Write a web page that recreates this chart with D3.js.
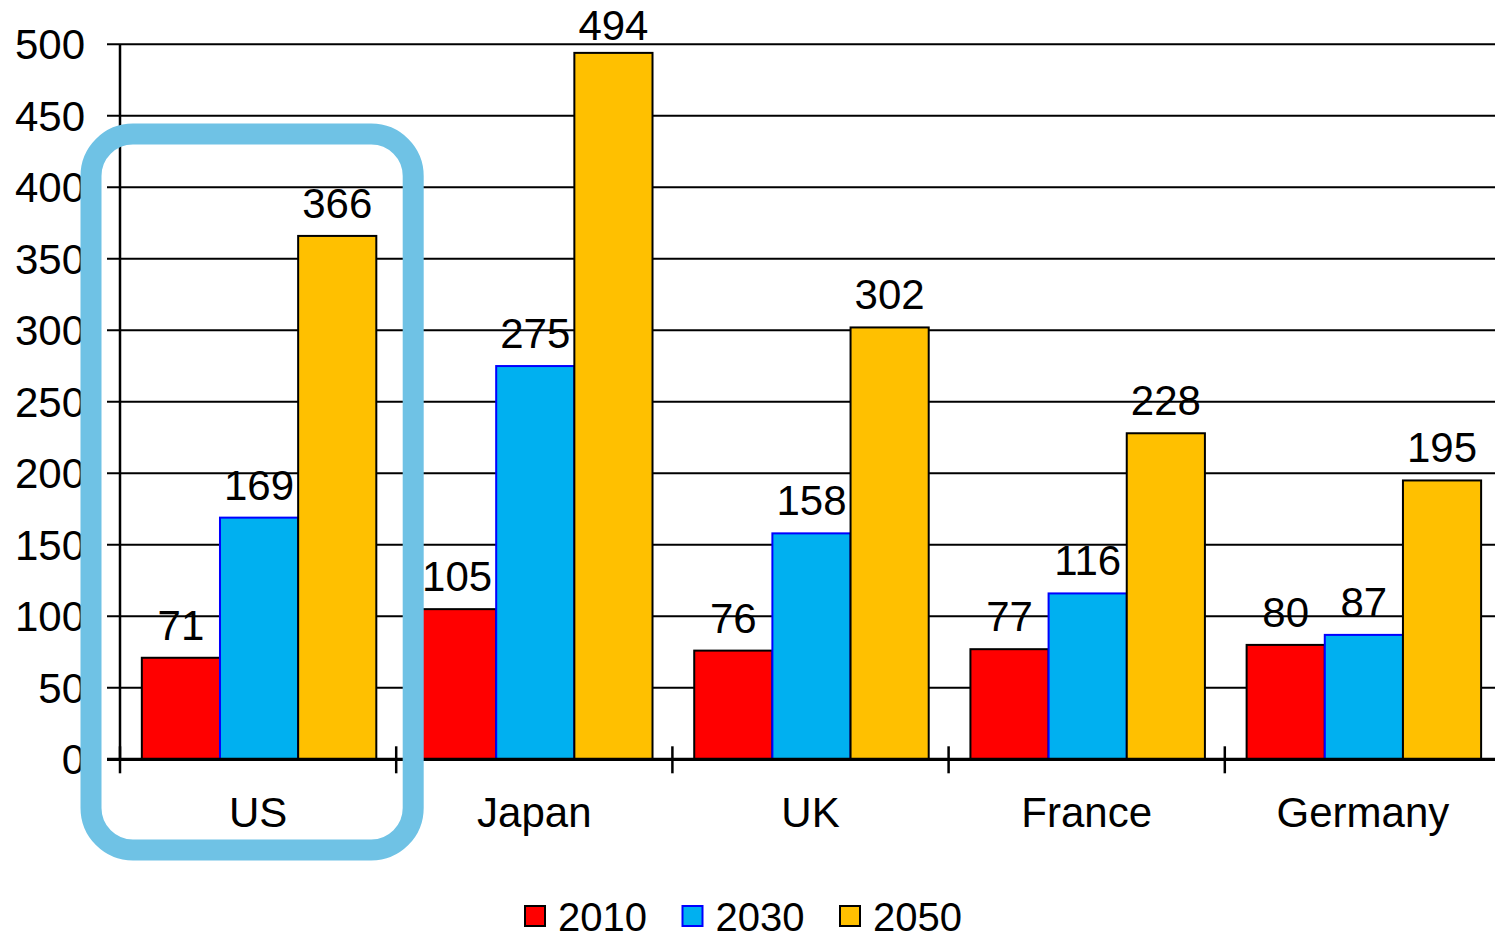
<!DOCTYPE html>
<html>
<head>
<meta charset="utf-8">
<script src="https://cdn.jsdelivr.net/npm/d3@7"></script>
<style>
  html, body { margin: 0; padding: 0; background: #fff; }
  svg { display: block; }
  text { font-family: "Liberation Sans", Arial, sans-serif; fill: #000; }
</style>
</head>
<body>
<svg id="chart" width="1495" height="939"></svg>
<script>
const categories = ["US", "Japan", "UK", "France", "Germany"];
const seriesNames = ["2010", "2030", "2050"];
const values2010 = [71, 105, 76, 77, 80];
const values2030 = [169, 275, 158, 116, 87];
const values2050 = [366, 494, 302, 228, 195];
const yTicks = [0, 50, 100, 150, 200, 250, 300, 350, 400, 450, 500];

(function () {
const seriesValues = [values2010, values2030, values2050];
const fills = ["#FF0000", "#00B0F0", "#FFC000"];
const strokes = ["#000000", "#0000FF", "#000000"];
const fs = 42;

const svg = d3.select("#chart");
const pLeft = 120, pRight = 1501, pTop = 44.3, pBottom = 759.3;

const x0 = d3.scaleBand().domain(categories).range([pLeft, pRight]);
const bw = x0.bandwidth();
const x1 = d3.scaleBand().domain(seriesNames).range([0.079 * bw, 0.928 * bw]);
const y = d3.scaleLinear().domain([0, 500]).range([pBottom, pTop]);

// gridlines
svg.append("g").selectAll("line").data(yTicks.filter(d => d > 0)).join("line")
  .attr("x1", pLeft - 13).attr("x2", 1495)
  .attr("y1", d => y(d)).attr("y2", d => y(d))
  .attr("stroke", "#000").attr("stroke-width", 2);
svg.append("line").attr("x1", pLeft - 13).attr("x2", pLeft).attr("y1", y(0)).attr("y2", y(0))
  .attr("stroke", "#000").attr("stroke-width", 2);

// y tick labels
svg.append("g").selectAll("text").data(yTicks).join("text")
  .attr("x", 85).attr("y", d => y(d)).attr("dy", "0.35em")
  .attr("text-anchor", "end").attr("font-size", fs)
  .text(d => d);

// bars
const groups = svg.append("g").selectAll("g").data(categories).join("g")
  .attr("transform", c => `translate(${x0(c)},0)`);
seriesNames.forEach((s, si) => {
  groups.append("rect")
    .attr("x", x1(s)).attr("width", x1.bandwidth())
    .attr("y", (c, i) => y(seriesValues[si][i]))
    .attr("height", (c, i) => y(0) - y(seriesValues[si][i]))
    .attr("fill", fills[si]).attr("stroke", strokes[si]).attr("stroke-width", 2);
});
seriesNames.forEach((s, si) => {
  groups.append("text")
    .attr("x", x1(s) + x1.bandwidth() / 2)
    .attr("y", (c, i) => Math.max(y(seriesValues[si][i]) - 18, 40))
    .attr("text-anchor", "middle").attr("font-size", fs)
    .text((c, i) => seriesValues[si][i]);
});

// axes
svg.append("line").attr("x1", pLeft).attr("x2", pLeft).attr("y1", pTop).attr("y2", pBottom)
  .attr("stroke", "#000").attr("stroke-width", 2.5);
svg.append("line").attr("x1", pLeft - 13).attr("x2", 1495).attr("y1", pBottom).attr("y2", pBottom)
  .attr("stroke", "#000").attr("stroke-width", 3.3);
svg.append("g").selectAll("line").data(categories).join("line")
  .attr("x1", c => x0(c)).attr("x2", c => x0(c))
  .attr("y1", pBottom - 13).attr("y2", pBottom + 14)
  .attr("stroke", "#000").attr("stroke-width", 2.5);
svg.append("g").selectAll("text").data(categories).join("text")
  .attr("x", c => x0(c) + bw / 2).attr("y", 827)
  .attr("text-anchor", "middle").attr("font-size", fs)
  .text(c => c);

// legend
const legend = svg.append("g").selectAll("g").data(seriesNames).join("g")
  .attr("transform", (d, i) => `translate(${525 + i * 157.5},0)`);
legend.append("rect").attr("x", 0).attr("y", 906).attr("width", 20).attr("height", 20)
  .attr("fill", (d, i) => fills[i]).attr("stroke", (d, i) => strokes[i]).attr("stroke-width", 2);
legend.append("text").attr("x", 33).attr("y", 931).attr("font-size", 40).text(d => d);

// highlight around US
svg.append("rect")
  .attr("x", x0("US") - 29).attr("y", 134)
  .attr("width", bw + 46).attr("height", 716)
  .attr("rx", 42).attr("ry", 42)
  .attr("fill", "none").attr("stroke", "#6FC2E5").attr("stroke-width", 21);
})();
</script>
</body>
</html>
